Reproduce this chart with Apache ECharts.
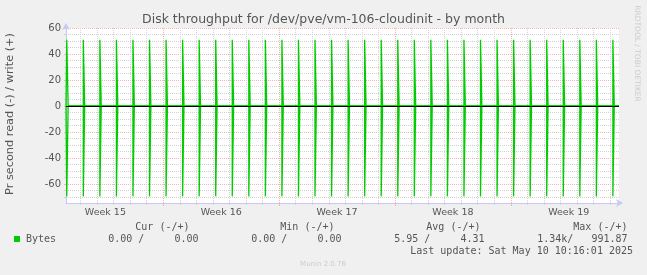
<!DOCTYPE html>
<html><head><meta charset="utf-8">
<script src="https://cdn.jsdelivr.net/npm/echarts@6/dist/echarts.min.js"></script>
<style>html,body{margin:0;padding:0;background:#f0f0f0}#c{width:647px;height:275px}</style>
</head><body><div id="c"></div>
<script>
// ---- data (x unit: days since the start of Week 15) ----
const titleText = 'Disk throughput for /dev/pve/vm-106-cloudinit - by month';
const yAxisTitle = 'Pr second read (-) / write (+)';
const weekLabels = ['Week 15', 'Week 16', 'Week 17', 'Week 18', 'Week 19'];
const weekCenters = [3.5, 10.5, 17.5, 24.5, 31.5];
const weekStarts = [7, 14, 21, 28];
const dayLines = [2, 3, 4, 5, 6, 8, 9, 10, 11, 12, 13, 15, 16, 17, 18, 19, 20, 22, 23, 24, 25, 26, 27, 29, 30, 31, 32, 33, 34];
const yLabelValues = [-60, -40, -20, 0, 20, 40, 60];
const yMinorValues = [-70, -65, -55, -50, -45, -35, -30, -25, -15, -10, -5, 5, 10, 15, 25, 30, 35, 45, 50, 55];
const spikeDays = [1, 2, 3, 4, 5, 6, 7, 8, 9, 10, 11, 12, 13, 14, 15, 16, 17, 18, 19, 20, 21, 22, 23, 24, 25, 26, 27, 28, 29, 30, 31, 32, 33, 34];
const spikeStartHour = 4;
const spikeBinHours = 2;
const writeValues = [51, 51, 51, 51, 51, 51, 51, 51, 51, 51, 51, 51, 51, 51, 51, 51, 51, 51, 51, 51, 51, 51, 51, 51, 51, 51, 51, 51, 51, 51, 51, 51, 51, 51];
const readValues = [69.5, 69.5, 69.5, 69.5, 69.5, 69.5, 69.5, 69.5, 69.5, 69.5, 69.5, 69.5, 69.5, 69.5, 69.5, 69.5, 69.5, 69.5, 69.5, 69.5, 69.5, 69.5, 69.5, 69.5, 69.5, 69.5, 69.5, 69.5, 69.5, 69.5, 69.5, 69.5, 69.5, 69.5];
const xMin = 1.121, xMax = 34.536;
const yMin = -74.6, yMax = 60;
const legendHeaders = ['Cur (-/+)', 'Min (-/+)', 'Avg (-/+)', 'Max (-/+)'];
const legendName = 'Bytes';
const legendValues = ['0.00 /     0.00', '0.00 /     0.00', '5.95 /     4.31', '1.34k/   991.87'];
const lastUpdate = 'Last update: Sat May 10 10:16:01 2025';
const footer = 'Munin 2.0.76';
const sideText = 'RRDTOOL / TOBI OETIKER';

function buildSeries(values, sign) {
  const pts = [[xMin, 0]];
  spikeDays.forEach((d, i) => {
    const s = d + spikeStartHour / 24, e = s + spikeBinHours / 24;
    pts.push([s, 0], [s, sign * values[i]], [e, sign * values[i]], [e, 0]);
  });
  pts.push([xMax, 0]);
  return pts;
}

const GREEN = '#00cc00', TXT = '#555555', AX = '#c8c8f8';
const GRAY = '#d2d2d2', RED = '#f3b4b4';
const F = 'DejaVu Sans', M = 'DejaVu Sans Mono';

const headerRight = [189.5, 334.5, 480.5, 627.5];
const valueRight = [198.5, 341.5, 484.5, 627.5];

const graphics = [
  {type: 'text', x: 323.5, y: 19.5, style: {text: titleText, font: '12.5px ' + F, fill: TXT, align: 'center', verticalAlign: 'middle'}},
  {type: 'text', x: 10.5, y: 114, rotation: Math.PI / 2, style: {text: yAxisTitle, font: '11.3px ' + F, fill: TXT, align: 'center', verticalAlign: 'middle'}},
  {type: 'text', x: 637, y: 53.5, rotation: -Math.PI / 2, style: {text: sideText, font: '7.5px ' + F, fill: '#cccccc', align: 'center', verticalAlign: 'middle'}},
  {type: 'text', x: 323, y: 264.5, style: {text: footer, font: '7px ' + F, fill: '#cccccc', align: 'center', verticalAlign: 'middle'}},
  {type: 'rect', shape: {x: 14, y: 236, width: 6, height: 6}, style: {fill: GREEN}},
  {type: 'text', x: 26, y: 239.5, style: {text: legendName, font: '10px ' + M, fill: TXT, align: 'left', verticalAlign: 'middle'}},
  {type: 'text', x: 633, y: 251.5, style: {text: lastUpdate, font: '10px ' + M, fill: TXT, align: 'right', verticalAlign: 'middle'}}
];
legendHeaders.forEach((h, i) => graphics.push({type: 'text', x: headerRight[i], y: 227.5, style: {text: h, font: '10px ' + M, fill: TXT, align: 'right', verticalAlign: 'middle'}}));
legendValues.forEach((v, i) => graphics.push({type: 'text', x: valueRight[i], y: 239.5, style: {text: v, font: '10px ' + M, fill: TXT, align: 'right', verticalAlign: 'middle'}}));

const chart = echarts.init(document.getElementById('c'), null, {renderer: 'canvas'});
chart.setOption({
  backgroundColor: '#f0f0f0',
  animation: false,
  textStyle: {fontFamily: F},
  grid: {left: 66, right: 28, top: 28, bottom: 72, show: true, backgroundColor: '#ffffff', borderWidth: 0, containLabel: false, outerBoundsMode: 'none'},
  xAxis: [
    {type: 'value', min: xMin, max: xMax, position: 'bottom',
      axisLine: {show: true, onZero: false, lineStyle: {color: AX, width: 1}, symbol: ['none', 'arrow'], symbolSize: [6, 7], symbolOffset: [0, 4]},
      axisTick: {show: true, customValues: dayLines, length: 2, lineStyle: {color: GRAY}},
      splitLine: {show: true, lineStyle: {color: GRAY, type: [1, 1], width: 1}},
      axisLabel: {show: true, customValues: weekCenters, margin: 5, color: TXT, fontFamily: F, fontSize: 9.5,
        formatter: v => weekLabels[weekCenters.indexOf(+v.toFixed(1))] || ''}
    },
    {type: 'value', min: xMin, max: xMax, position: 'bottom',
      axisLine: {show: false, onZero: false},
      axisTick: {show: true, customValues: weekStarts, length: 3, lineStyle: {color: RED}},
      splitLine: {show: true, lineStyle: {color: RED, type: [1, 1], width: 1}},
      axisLabel: {show: false}
    }
  ],
  yAxis: [
    {type: 'value', min: yMin, max: yMax, position: 'left',
      axisLine: {show: true, onZero: false, lineStyle: {color: AX, width: 1}, symbol: ['none', 'arrow'], symbolSize: [6, 7], symbolOffset: [0, 5]},
      axisTick: {show: true, customValues: yLabelValues, length: 2, lineStyle: {color: RED}},
      splitLine: {show: true, lineStyle: {color: RED, type: [1, 1], width: 1}},
      axisLabel: {show: true, customValues: yLabelValues, margin: 5, color: TXT, fontFamily: F, fontSize: 10}
    },
    {type: 'value', min: yMin, max: yMax, position: 'left',
      axisLine: {show: false, onZero: false},
      axisTick: {show: true, customValues: yMinorValues, length: 2, lineStyle: {color: GRAY}},
      splitLine: {show: true, lineStyle: {color: GRAY, type: [1, 1], width: 1}},
      axisLabel: {show: false}
    }
  ],
  series: [
    {type: 'line', name: 'read', xAxisIndex: 0, yAxisIndex: 0, data: buildSeries(readValues, -1), showSymbol: false, symbol: 'none',
      lineStyle: {color: GREEN, width: 1.3}, z: 3},
    {type: 'line', name: 'write', xAxisIndex: 0, yAxisIndex: 0, data: buildSeries(writeValues, 1), showSymbol: false, symbol: 'none',
      lineStyle: {color: GREEN, width: 1.3}, z: 3,
      markLine: {silent: true, symbol: 'none', label: {show: false}, lineStyle: {color: '#000000', width: 1, type: 'solid'}, data: [{yAxis: 0}], z: 10}}
  ],
  graphic: graphics
});
</script></body></html>
